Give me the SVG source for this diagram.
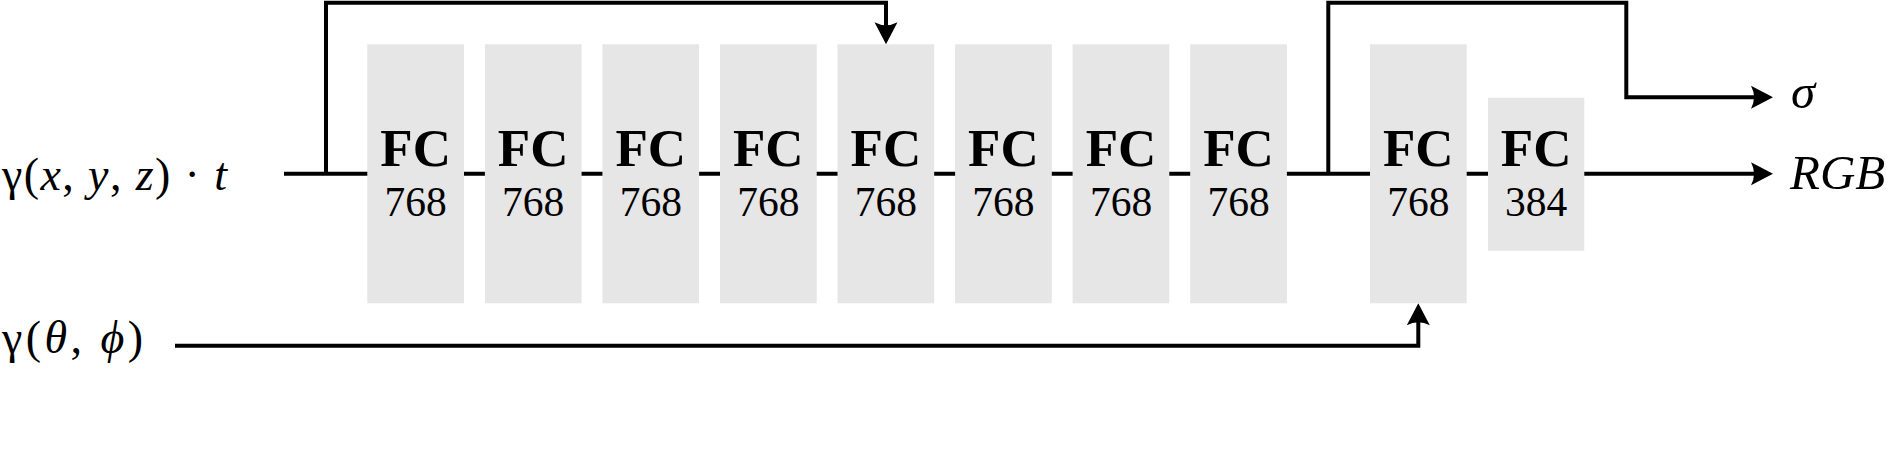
<svg xmlns="http://www.w3.org/2000/svg" width="1888" height="451" viewBox="0 0 1888 451">
<style>
.box{fill:#e6e6e6;stroke:none}
.wire{fill:none;stroke:#000;stroke-width:4;stroke-linejoin:miter}
.serif{font-family:"Liberation Serif","DejaVu Serif","Noto Serif",serif;fill:#000}
.fc{font-weight:bold;font-size:53px;text-anchor:middle}
.num{font-size:41.5px;text-anchor:middle}
.lbl{font-size:46px}
.it{font-style:italic}
.out{font-size:49px;font-style:italic}
</style>
<defs>
<marker id="arr" viewBox="-24 -13 26 26" refX="-10" refY="0" markerWidth="26" markerHeight="26" markerUnits="userSpaceOnUse" orient="auto">
<path d="M0,0 L-22,-11.5 Q-16,0 -22,11.5 Z" fill="#000"/>
</marker>
</defs>
<rect width="1888" height="451" fill="#fff"/>
<g id="connectors">
<path class="wire" d="M284,173.7 H1763" marker-end="url(#arr)"/>
<path class="wire" d="M326,173.7 V2.7 H886 V34.3" marker-end="url(#arr)"/>
<path class="wire" d="M1328.3,173.7 V2.7 H1626.3 V97.3 H1763" marker-end="url(#arr)"/>
<path class="wire" d="M175,345.7 H1418.3 V313.3" marker-end="url(#arr)"/>
</g>
<g id="fc1"><rect class="box" x="367.3" y="44.3" width="96.7" height="259"/><text class="serif fc" x="415.7" y="165.7">FC</text><text class="serif num" x="415.7" y="216">768</text></g>
<g id="fc2"><rect class="box" x="484.9" y="44.3" width="96.7" height="259"/><text class="serif fc" x="533.2" y="165.7">FC</text><text class="serif num" x="533.2" y="216">768</text></g>
<g id="fc3"><rect class="box" x="602.4" y="44.3" width="96.7" height="259"/><text class="serif fc" x="650.8" y="165.7">FC</text><text class="serif num" x="650.8" y="216">768</text></g>
<g id="fc4"><rect class="box" x="720" y="44.3" width="96.7" height="259"/><text class="serif fc" x="768.3" y="165.7">FC</text><text class="serif num" x="768.3" y="216">768</text></g>
<g id="fc5"><rect class="box" x="837.5" y="44.3" width="96.7" height="259"/><text class="serif fc" x="885.9" y="165.7">FC</text><text class="serif num" x="885.9" y="216">768</text></g>
<g id="fc6"><rect class="box" x="955.1" y="44.3" width="96.7" height="259"/><text class="serif fc" x="1003.4" y="165.7">FC</text><text class="serif num" x="1003.4" y="216">768</text></g>
<g id="fc7"><rect class="box" x="1072.6" y="44.3" width="96.7" height="259"/><text class="serif fc" x="1121" y="165.7">FC</text><text class="serif num" x="1121" y="216">768</text></g>
<g id="fc8"><rect class="box" x="1190.2" y="44.3" width="96.7" height="259"/><text class="serif fc" x="1238.5" y="165.7">FC</text><text class="serif num" x="1238.5" y="216">768</text></g>
<g id="fc9"><rect class="box" x="1370" y="44.3" width="96.7" height="259"/><text class="serif fc" x="1418.3" y="165.7">FC</text><text class="serif num" x="1418.3" y="216">768</text></g>
<g id="fc10"><rect class="box" x="1488" y="97.7" width="96.3" height="153"/><text class="serif fc" x="1536.2" y="165.7">FC</text><text class="serif num" x="1536.2" y="216">384</text></g>
<g id="in-xyz"><text class="serif lbl" x="2" y="190" textLength="225" lengthAdjust="spacing">γ(<tspan class="it">x</tspan>, <tspan class="it">y</tspan>, <tspan class="it">z</tspan>) · <tspan class="it">t</tspan></text></g>
<g id="in-dir"><text class="serif lbl" x="2" y="353" textLength="141" lengthAdjust="spacing">γ(<tspan class="it">θ</tspan>, <tspan class="it">ϕ</tspan>)</text></g>
<g id="out-sigma"><text class="serif out" x="1791" y="108">σ</text></g>
<g id="out-rgb"><text class="serif out" x="1790" y="189.3">RGB</text></g>
</svg>
